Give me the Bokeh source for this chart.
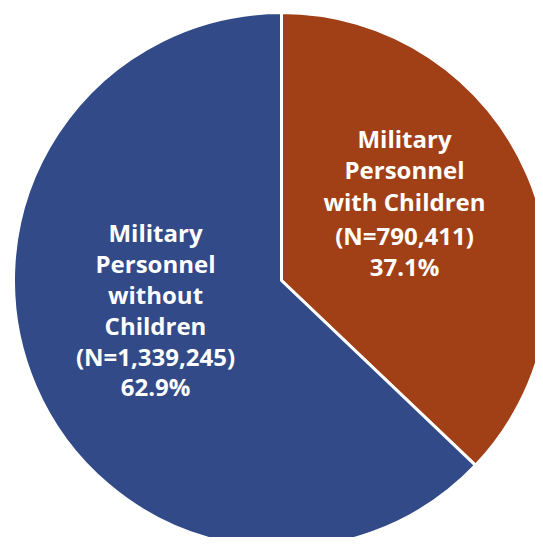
import math
from bokeh.plotting import figure
from bokeh.models import Range1d, ColumnDataSource
from bokeh.core.properties import value
from bokeh.embed import file_html
from bokeh.resources import INLINE

# Data
categories = ["Military Personnel with Children", "Military Personnel without Children"]
counts = [790411, 1339245]
colors = ["#A14016", "#324A87"]

total = sum(counts)
fracs = [c / total for c in counts]

W, H = 535, 537
p = figure(width=W, height=H, output_backend="svg", toolbar_location=None,
           x_range=Range1d(0, W), y_range=Range1d(0, H),
           min_border=0, min_border_left=0, min_border_right=0,
           min_border_top=0, min_border_bottom=0)
p.axis.visible = False
p.grid.visible = False
p.outline_line_color = None
p.background_fill_color = "white"
p.border_fill_color = "white"

def Y(v):
    return H - v

cx, cy, r = 281, Y(280), 268

# clockwise from top
starts, ends = [], []
ang = math.pi / 2
for f in fracs:
    a_end = ang - f * 2 * math.pi
    starts.append(a_end)
    ends.append(ang)
    ang = a_end

src = ColumnDataSource(dict(start=starts, end=ends, color=colors))
p.wedge(x=cx, y=cy, radius=r, start_angle="start", end_angle="end",
        fill_color="color", line_color="white", line_width=3, source=src)

# Labels
lab1 = ["Military", "Personnel", "with Children",
        f"(N={counts[0]:,})", f"{fracs[0]*100:.1f}%"]
lab2 = ["Military", "Personnel", "without", "Children",
        f"(N={counts[1]:,})", f"{fracs[1]*100:.1f}%"]

y1 = [138, 169, 201, 235, 266]
y2 = [232, 263, 294, 325, 356, 386]
p.text(x=[404] * len(lab1), y=[Y(v) for v in y1], text=lab1,
       text_color="white", text_font=value("Open Sans"), text_font_style="bold",
       text_font_size="24px", text_align="center", text_baseline="middle")
p.text(x=[155] * len(lab2), y=[Y(v) for v in y2], text=lab2,
       text_color="white", text_font=value("Open Sans"), text_font_style="bold",
       text_font_size="24px", text_align="center", text_baseline="middle")

open("out.html", "w").write(file_html(p, INLINE))
